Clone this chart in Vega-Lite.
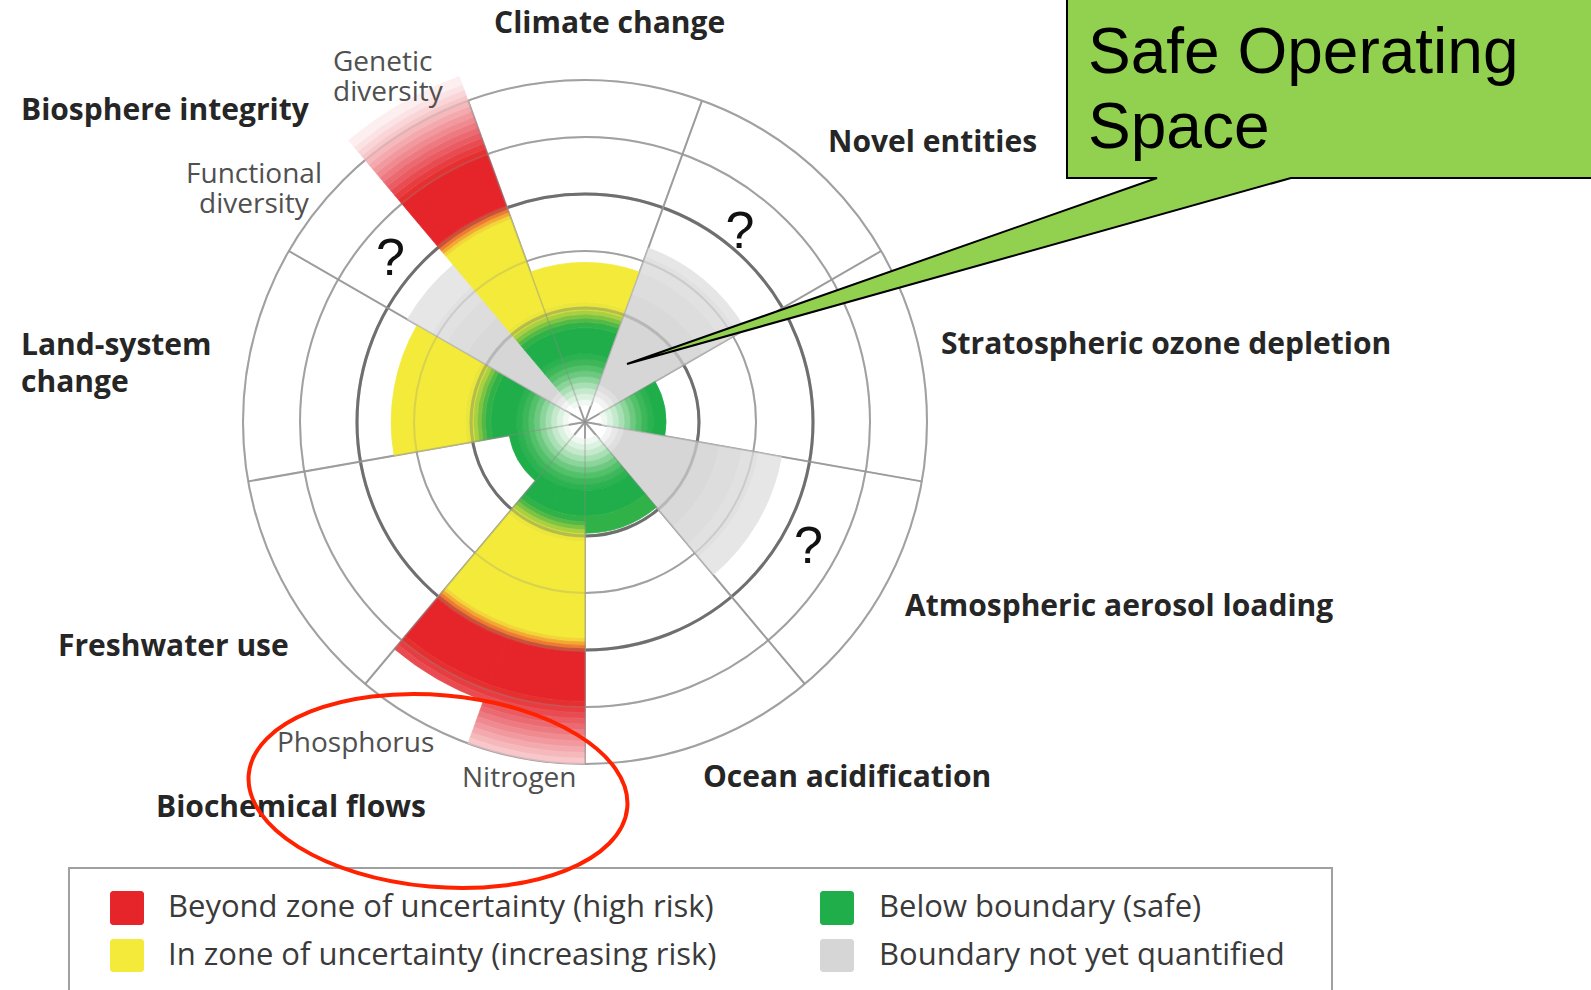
{
  "$schema": "https://vega.github.io/schema/vega-lite/v6.json",
  "width": 1591,
  "height": 990,
  "autosize": {"type": "none"},
  "padding": 0,
  "background": "white",
  "config": {"view": {"stroke": null}},
  "datasets": {
    "rings": [
      {"r": 2, "kind": "dark"}, {"r": 3, "kind": "light"}, {"r": 4, "kind": "dark"}, {"r": 5, "kind": "light"}, {"r": 6, "kind": "light"}
    ],
    "spokes": [
      {"a": 20}, {"a": 60}, {"a": 100}, {"a": 140}, {"a": 180}, {"a": 220}, {"a": 260}, {"a": 300}, {"a": 340}
    ],
    "bands": [
      {"w": "Climate change", "t0": -20, "t1": 20, "r0": 0.3, "r1": 0.4, "zone": "c1"},
      {"w": "Climate change", "t0": -20, "t1": 20, "r0": 0.4, "r1": 0.5, "zone": "c2"},
      {"w": "Climate change", "t0": -20, "t1": 20, "r0": 0.5, "r1": 0.6, "zone": "c3"},
      {"w": "Climate change", "t0": -20, "t1": 20, "r0": 0.6, "r1": 0.7, "zone": "c4"},
      {"w": "Climate change", "t0": -20, "t1": 20, "r0": 0.7, "r1": 0.8, "zone": "c5"},
      {"w": "Climate change", "t0": -20, "t1": 20, "r0": 0.8, "r1": 0.9, "zone": "c6"},
      {"w": "Climate change", "t0": -20, "t1": 20, "r0": 0.9, "r1": 1.0, "zone": "c7"},
      {"w": "Climate change", "t0": -20, "t1": 20, "r0": 1.0, "r1": 1.1, "zone": "c8"},
      {"w": "Climate change", "t0": -20, "t1": 20, "r0": 1.1, "r1": 1.2, "zone": "c9"},
      {"w": "Climate change", "t0": -20, "t1": 20, "r0": 1.2, "r1": 1.65, "zone": "g"},
      {"w": "Climate change", "t0": -20, "t1": 20, "r0": 1.65, "r1": 1.75, "zone": "g7"},
      {"w": "Climate change", "t0": -20, "t1": 20, "r0": 1.75, "r1": 1.82, "zone": "t1"},
      {"w": "Climate change", "t0": -20, "t1": 20, "r0": 1.82, "r1": 1.89, "zone": "t2"},
      {"w": "Climate change", "t0": -20, "t1": 20, "r0": 1.89, "r1": 1.96, "zone": "t3"},
      {"w": "Climate change", "t0": -20, "t1": 20, "r0": 1.96, "r1": 2.03, "zone": "t4"},
      {"w": "Climate change", "t0": -20, "t1": 20, "r0": 2.03, "r1": 2.1, "zone": "t5"},
      {"w": "Climate change", "t0": -20, "t1": 20, "r0": 2.1, "r1": 2.8, "zone": "y"},

      {"w": "Novel entities", "t0": 20, "t1": 60, "r0": 0.4, "r1": 0.5, "zone": "q0"},
      {"w": "Novel entities", "t0": 20, "t1": 60, "r0": 0.5, "r1": 0.6, "zone": "q1"},
      {"w": "Novel entities", "t0": 20, "t1": 60, "r0": 0.6, "r1": 0.7, "zone": "q2"},
      {"w": "Novel entities", "t0": 20, "t1": 60, "r0": 0.7, "r1": 2.0, "zone": "q3"},
      {"w": "Novel entities", "t0": 20, "t1": 60, "r0": 2.0, "r1": 2.4, "zone": "q4"},
      {"w": "Novel entities", "t0": 20, "t1": 60, "r0": 2.4, "r1": 2.8, "zone": "q5"},
      {"w": "Novel entities", "t0": 20, "t1": 60, "r0": 2.8, "r1": 3.1, "zone": "q6"},
      {"w": "Novel entities", "t0": 20, "t1": 60, "r0": 3.1, "r1": 3.25, "zone": "q7"},

      {"w": "Ozone", "t0": 60, "t1": 100, "r0": 0.3, "r1": 0.4, "zone": "c1"},
      {"w": "Ozone", "t0": 60, "t1": 100, "r0": 0.4, "r1": 0.5, "zone": "c2"},
      {"w": "Ozone", "t0": 60, "t1": 100, "r0": 0.5, "r1": 0.6, "zone": "c3"},
      {"w": "Ozone", "t0": 60, "t1": 100, "r0": 0.6, "r1": 0.7, "zone": "c4"},
      {"w": "Ozone", "t0": 60, "t1": 100, "r0": 0.7, "r1": 0.8, "zone": "c5"},
      {"w": "Ozone", "t0": 60, "t1": 100, "r0": 0.8, "r1": 0.9, "zone": "c6"},
      {"w": "Ozone", "t0": 60, "t1": 100, "r0": 0.9, "r1": 1.0, "zone": "c7"},
      {"w": "Ozone", "t0": 60, "t1": 100, "r0": 1.0, "r1": 1.1, "zone": "c8"},
      {"w": "Ozone", "t0": 60, "t1": 100, "r0": 1.1, "r1": 1.2, "zone": "c9"},
      {"w": "Ozone", "t0": 60, "t1": 100, "r0": 1.2, "r1": 1.42, "zone": "g"},

      {"w": "Aerosol", "t0": 100, "t1": 140, "r0": 0.4, "r1": 0.5, "zone": "q0"},
      {"w": "Aerosol", "t0": 100, "t1": 140, "r0": 0.5, "r1": 0.6, "zone": "q1"},
      {"w": "Aerosol", "t0": 100, "t1": 140, "r0": 0.6, "r1": 0.7, "zone": "q2"},
      {"w": "Aerosol", "t0": 100, "t1": 140, "r0": 0.7, "r1": 2.0, "zone": "q3"},
      {"w": "Aerosol", "t0": 100, "t1": 140, "r0": 2.0, "r1": 2.4, "zone": "q4"},
      {"w": "Aerosol", "t0": 100, "t1": 140, "r0": 2.4, "r1": 2.8, "zone": "q5"},
      {"w": "Aerosol", "t0": 100, "t1": 140, "r0": 2.8, "r1": 3.1, "zone": "q6"},
      {"w": "Aerosol", "t0": 100, "t1": 140, "r0": 3.1, "r1": 3.5, "zone": "q7"},

      {"w": "Ocean", "t0": 140, "t1": 180, "r0": 0.3, "r1": 0.4, "zone": "c1"},
      {"w": "Ocean", "t0": 140, "t1": 180, "r0": 0.4, "r1": 0.5, "zone": "c2"},
      {"w": "Ocean", "t0": 140, "t1": 180, "r0": 0.5, "r1": 0.6, "zone": "c3"},
      {"w": "Ocean", "t0": 140, "t1": 180, "r0": 0.6, "r1": 0.7, "zone": "c4"},
      {"w": "Ocean", "t0": 140, "t1": 180, "r0": 0.7, "r1": 0.8, "zone": "c5"},
      {"w": "Ocean", "t0": 140, "t1": 180, "r0": 0.8, "r1": 0.9, "zone": "c6"},
      {"w": "Ocean", "t0": 140, "t1": 180, "r0": 0.9, "r1": 1.0, "zone": "c7"},
      {"w": "Ocean", "t0": 140, "t1": 180, "r0": 1.0, "r1": 1.1, "zone": "c8"},
      {"w": "Ocean", "t0": 140, "t1": 180, "r0": 1.1, "r1": 1.2, "zone": "c9"},
      {"w": "Ocean", "t0": 140, "t1": 180, "r0": 1.2, "r1": 1.65, "zone": "g"},
      {"w": "Ocean", "t0": 140, "t1": 180, "r0": 1.65, "r1": 1.95, "zone": "g7"},

      {"w": "Nitrogen", "t0": 180, "t1": 200, "r0": 0.3, "r1": 0.4, "zone": "c1"},
      {"w": "Nitrogen", "t0": 180, "t1": 200, "r0": 0.4, "r1": 0.5, "zone": "c2"},
      {"w": "Nitrogen", "t0": 180, "t1": 200, "r0": 0.5, "r1": 0.6, "zone": "c3"},
      {"w": "Nitrogen", "t0": 180, "t1": 200, "r0": 0.6, "r1": 0.7, "zone": "c4"},
      {"w": "Nitrogen", "t0": 180, "t1": 200, "r0": 0.7, "r1": 0.8, "zone": "c5"},
      {"w": "Nitrogen", "t0": 180, "t1": 200, "r0": 0.8, "r1": 0.9, "zone": "c6"},
      {"w": "Nitrogen", "t0": 180, "t1": 200, "r0": 0.9, "r1": 1.0, "zone": "c7"},
      {"w": "Nitrogen", "t0": 180, "t1": 200, "r0": 1.0, "r1": 1.1, "zone": "c8"},
      {"w": "Nitrogen", "t0": 180, "t1": 200, "r0": 1.1, "r1": 1.2, "zone": "c9"},
      {"w": "Nitrogen", "t0": 180, "t1": 200, "r0": 1.2, "r1": 1.65, "zone": "g"},
      {"w": "Nitrogen", "t0": 180, "t1": 200, "r0": 1.65, "r1": 1.75, "zone": "g7"},
      {"w": "Nitrogen", "t0": 180, "t1": 200, "r0": 1.75, "r1": 1.82, "zone": "t1"},
      {"w": "Nitrogen", "t0": 180, "t1": 200, "r0": 1.82, "r1": 1.89, "zone": "t2"},
      {"w": "Nitrogen", "t0": 180, "t1": 200, "r0": 1.89, "r1": 1.96, "zone": "t3"},
      {"w": "Nitrogen", "t0": 180, "t1": 200, "r0": 1.96, "r1": 2.03, "zone": "t4"},
      {"w": "Nitrogen", "t0": 180, "t1": 200, "r0": 2.03, "r1": 2.1, "zone": "t5"},
      {"w": "Nitrogen", "t0": 180, "t1": 200, "r0": 2.1, "r1": 3.8, "zone": "y"},
      {"w": "Nitrogen", "t0": 180, "t1": 200, "r0": 3.8, "r1": 3.86, "zone": "u1"},
      {"w": "Nitrogen", "t0": 180, "t1": 200, "r0": 3.86, "r1": 3.92, "zone": "u2"},
      {"w": "Nitrogen", "t0": 180, "t1": 200, "r0": 3.92, "r1": 3.98, "zone": "u3"},
      {"w": "Nitrogen", "t0": 180, "t1": 200, "r0": 3.98, "r1": 4.04, "zone": "u4"},
      {"w": "Nitrogen", "t0": 180, "t1": 200, "r0": 4.04, "r1": 4.9, "zone": "r"},
      {"w": "Nitrogen", "t0": 180, "t1": 200, "r0": 4.9, "r1": 5.0, "zone": "f1"},
      {"w": "Nitrogen", "t0": 180, "t1": 200, "r0": 5.0, "r1": 5.1, "zone": "f2"},
      {"w": "Nitrogen", "t0": 180, "t1": 200, "r0": 5.1, "r1": 5.2, "zone": "f3"},
      {"w": "Nitrogen", "t0": 180, "t1": 200, "r0": 5.2, "r1": 5.3, "zone": "f4"},
      {"w": "Nitrogen", "t0": 180, "t1": 200, "r0": 5.3, "r1": 5.4, "zone": "f5"},
      {"w": "Nitrogen", "t0": 180, "t1": 200, "r0": 5.4, "r1": 5.5, "zone": "f6"},
      {"w": "Nitrogen", "t0": 180, "t1": 200, "r0": 5.5, "r1": 5.6, "zone": "f7"},
      {"w": "Nitrogen", "t0": 180, "t1": 200, "r0": 5.6, "r1": 5.7, "zone": "f8"},
      {"w": "Nitrogen", "t0": 180, "t1": 200, "r0": 5.7, "r1": 5.8, "zone": "f9"},
      {"w": "Nitrogen", "t0": 180, "t1": 200, "r0": 5.8, "r1": 5.9, "zone": "f10"},
      {"w": "Nitrogen", "t0": 180, "t1": 200, "r0": 5.9, "r1": 6.0, "zone": "f11"},

      {"w": "Phosphorus", "t0": 200, "t1": 220, "r0": 0.3, "r1": 0.4, "zone": "c1"},
      {"w": "Phosphorus", "t0": 200, "t1": 220, "r0": 0.4, "r1": 0.5, "zone": "c2"},
      {"w": "Phosphorus", "t0": 200, "t1": 220, "r0": 0.5, "r1": 0.6, "zone": "c3"},
      {"w": "Phosphorus", "t0": 200, "t1": 220, "r0": 0.6, "r1": 0.7, "zone": "c4"},
      {"w": "Phosphorus", "t0": 200, "t1": 220, "r0": 0.7, "r1": 0.8, "zone": "c5"},
      {"w": "Phosphorus", "t0": 200, "t1": 220, "r0": 0.8, "r1": 0.9, "zone": "c6"},
      {"w": "Phosphorus", "t0": 200, "t1": 220, "r0": 0.9, "r1": 1.0, "zone": "c7"},
      {"w": "Phosphorus", "t0": 200, "t1": 220, "r0": 1.0, "r1": 1.1, "zone": "c8"},
      {"w": "Phosphorus", "t0": 200, "t1": 220, "r0": 1.1, "r1": 1.2, "zone": "c9"},
      {"w": "Phosphorus", "t0": 200, "t1": 220, "r0": 1.2, "r1": 1.65, "zone": "g"},
      {"w": "Phosphorus", "t0": 200, "t1": 220, "r0": 1.65, "r1": 1.75, "zone": "g7"},
      {"w": "Phosphorus", "t0": 200, "t1": 220, "r0": 1.75, "r1": 1.82, "zone": "t1"},
      {"w": "Phosphorus", "t0": 200, "t1": 220, "r0": 1.82, "r1": 1.89, "zone": "t2"},
      {"w": "Phosphorus", "t0": 200, "t1": 220, "r0": 1.89, "r1": 1.96, "zone": "t3"},
      {"w": "Phosphorus", "t0": 200, "t1": 220, "r0": 1.96, "r1": 2.03, "zone": "t4"},
      {"w": "Phosphorus", "t0": 200, "t1": 220, "r0": 2.03, "r1": 2.1, "zone": "t5"},
      {"w": "Phosphorus", "t0": 200, "t1": 220, "r0": 2.1, "r1": 3.8, "zone": "y"},
      {"w": "Phosphorus", "t0": 200, "t1": 220, "r0": 3.8, "r1": 3.86, "zone": "u1"},
      {"w": "Phosphorus", "t0": 200, "t1": 220, "r0": 3.86, "r1": 3.92, "zone": "u2"},
      {"w": "Phosphorus", "t0": 200, "t1": 220, "r0": 3.92, "r1": 3.98, "zone": "u3"},
      {"w": "Phosphorus", "t0": 200, "t1": 220, "r0": 3.98, "r1": 4.04, "zone": "u4"},
      {"w": "Phosphorus", "t0": 200, "t1": 220, "r0": 4.04, "r1": 4.9, "zone": "r"},
      {"w": "Phosphorus", "t0": 200, "t1": 220, "r0": 4.9, "r1": 5.0, "zone": "f1"},
      {"w": "Phosphorus", "t0": 200, "t1": 220, "r0": 5.0, "r1": 5.1, "zone": "f2"},
      {"w": "Phosphorus", "t0": 200, "t1": 220, "r0": 5.1, "r1": 5.2, "zone": "f3"},

      {"w": "Freshwater", "t0": 220, "t1": 260, "r0": 0.3, "r1": 0.4, "zone": "c1"},
      {"w": "Freshwater", "t0": 220, "t1": 260, "r0": 0.4, "r1": 0.5, "zone": "c2"},
      {"w": "Freshwater", "t0": 220, "t1": 260, "r0": 0.5, "r1": 0.6, "zone": "c3"},
      {"w": "Freshwater", "t0": 220, "t1": 260, "r0": 0.6, "r1": 0.7, "zone": "c4"},
      {"w": "Freshwater", "t0": 220, "t1": 260, "r0": 0.7, "r1": 0.8, "zone": "c5"},
      {"w": "Freshwater", "t0": 220, "t1": 260, "r0": 0.8, "r1": 0.9, "zone": "c6"},
      {"w": "Freshwater", "t0": 220, "t1": 260, "r0": 0.9, "r1": 1.0, "zone": "c7"},
      {"w": "Freshwater", "t0": 220, "t1": 260, "r0": 1.0, "r1": 1.1, "zone": "c8"},
      {"w": "Freshwater", "t0": 220, "t1": 260, "r0": 1.1, "r1": 1.2, "zone": "c9"},
      {"w": "Freshwater", "t0": 220, "t1": 260, "r0": 1.2, "r1": 1.35, "zone": "g"},

      {"w": "Land", "t0": 260, "t1": 300, "r0": 0.3, "r1": 0.4, "zone": "c1"},
      {"w": "Land", "t0": 260, "t1": 300, "r0": 0.4, "r1": 0.5, "zone": "c2"},
      {"w": "Land", "t0": 260, "t1": 300, "r0": 0.5, "r1": 0.6, "zone": "c3"},
      {"w": "Land", "t0": 260, "t1": 300, "r0": 0.6, "r1": 0.7, "zone": "c4"},
      {"w": "Land", "t0": 260, "t1": 300, "r0": 0.7, "r1": 0.8, "zone": "c5"},
      {"w": "Land", "t0": 260, "t1": 300, "r0": 0.8, "r1": 0.9, "zone": "c6"},
      {"w": "Land", "t0": 260, "t1": 300, "r0": 0.9, "r1": 1.0, "zone": "c7"},
      {"w": "Land", "t0": 260, "t1": 300, "r0": 1.0, "r1": 1.1, "zone": "c8"},
      {"w": "Land", "t0": 260, "t1": 300, "r0": 1.1, "r1": 1.2, "zone": "c9"},
      {"w": "Land", "t0": 260, "t1": 300, "r0": 1.2, "r1": 1.65, "zone": "g"},
      {"w": "Land", "t0": 260, "t1": 300, "r0": 1.65, "r1": 1.75, "zone": "g7"},
      {"w": "Land", "t0": 260, "t1": 300, "r0": 1.75, "r1": 1.82, "zone": "t1"},
      {"w": "Land", "t0": 260, "t1": 300, "r0": 1.82, "r1": 1.89, "zone": "t2"},
      {"w": "Land", "t0": 260, "t1": 300, "r0": 1.89, "r1": 1.96, "zone": "t3"},
      {"w": "Land", "t0": 260, "t1": 300, "r0": 1.96, "r1": 2.03, "zone": "t4"},
      {"w": "Land", "t0": 260, "t1": 300, "r0": 2.03, "r1": 2.1, "zone": "t5"},
      {"w": "Land", "t0": 260, "t1": 300, "r0": 2.1, "r1": 3.4, "zone": "y"},

      {"w": "Functional", "t0": 300, "t1": 320, "r0": 0.4, "r1": 0.5, "zone": "q0"},
      {"w": "Functional", "t0": 300, "t1": 320, "r0": 0.5, "r1": 0.6, "zone": "q1"},
      {"w": "Functional", "t0": 300, "t1": 320, "r0": 0.6, "r1": 0.7, "zone": "q2"},
      {"w": "Functional", "t0": 300, "t1": 320, "r0": 0.7, "r1": 2.0, "zone": "q3"},
      {"w": "Functional", "t0": 300, "t1": 320, "r0": 2.0, "r1": 2.4, "zone": "q4"},
      {"w": "Functional", "t0": 300, "t1": 320, "r0": 2.4, "r1": 2.8, "zone": "q5"},
      {"w": "Functional", "t0": 300, "t1": 320, "r0": 2.8, "r1": 3.1, "zone": "q6"},
      {"w": "Functional", "t0": 300, "t1": 320, "r0": 3.1, "r1": 3.6, "zone": "q7"},

      {"w": "Genetic", "t0": 320, "t1": 340, "r0": 0.3, "r1": 0.4, "zone": "c1"},
      {"w": "Genetic", "t0": 320, "t1": 340, "r0": 0.4, "r1": 0.5, "zone": "c2"},
      {"w": "Genetic", "t0": 320, "t1": 340, "r0": 0.5, "r1": 0.6, "zone": "c3"},
      {"w": "Genetic", "t0": 320, "t1": 340, "r0": 0.6, "r1": 0.7, "zone": "c4"},
      {"w": "Genetic", "t0": 320, "t1": 340, "r0": 0.7, "r1": 0.8, "zone": "c5"},
      {"w": "Genetic", "t0": 320, "t1": 340, "r0": 0.8, "r1": 0.9, "zone": "c6"},
      {"w": "Genetic", "t0": 320, "t1": 340, "r0": 0.9, "r1": 1.0, "zone": "c7"},
      {"w": "Genetic", "t0": 320, "t1": 340, "r0": 1.0, "r1": 1.1, "zone": "c8"},
      {"w": "Genetic", "t0": 320, "t1": 340, "r0": 1.1, "r1": 1.2, "zone": "c9"},
      {"w": "Genetic", "t0": 320, "t1": 340, "r0": 1.2, "r1": 1.65, "zone": "g"},
      {"w": "Genetic", "t0": 320, "t1": 340, "r0": 1.65, "r1": 1.75, "zone": "g7"},
      {"w": "Genetic", "t0": 320, "t1": 340, "r0": 1.75, "r1": 1.82, "zone": "t1"},
      {"w": "Genetic", "t0": 320, "t1": 340, "r0": 1.82, "r1": 1.89, "zone": "t2"},
      {"w": "Genetic", "t0": 320, "t1": 340, "r0": 1.89, "r1": 1.96, "zone": "t3"},
      {"w": "Genetic", "t0": 320, "t1": 340, "r0": 1.96, "r1": 2.03, "zone": "t4"},
      {"w": "Genetic", "t0": 320, "t1": 340, "r0": 2.03, "r1": 2.1, "zone": "t5"},
      {"w": "Genetic", "t0": 320, "t1": 340, "r0": 2.1, "r1": 3.8, "zone": "y"},
      {"w": "Genetic", "t0": 320, "t1": 340, "r0": 3.8, "r1": 3.86, "zone": "u1"},
      {"w": "Genetic", "t0": 320, "t1": 340, "r0": 3.86, "r1": 3.92, "zone": "u2"},
      {"w": "Genetic", "t0": 320, "t1": 340, "r0": 3.92, "r1": 3.98, "zone": "u3"},
      {"w": "Genetic", "t0": 320, "t1": 340, "r0": 3.98, "r1": 4.04, "zone": "u4"},
      {"w": "Genetic", "t0": 320, "t1": 340, "r0": 4.04, "r1": 5.0, "zone": "r"},
      {"w": "Genetic", "t0": 320, "t1": 340, "r0": 5.0, "r1": 5.1, "zone": "f1"},
      {"w": "Genetic", "t0": 320, "t1": 340, "r0": 5.1, "r1": 5.2, "zone": "f2"},
      {"w": "Genetic", "t0": 320, "t1": 340, "r0": 5.2, "r1": 5.3, "zone": "f3"},
      {"w": "Genetic", "t0": 320, "t1": 340, "r0": 5.3, "r1": 5.4, "zone": "f4"},
      {"w": "Genetic", "t0": 320, "t1": 340, "r0": 5.4, "r1": 5.5, "zone": "f5"},
      {"w": "Genetic", "t0": 320, "t1": 340, "r0": 5.5, "r1": 5.6, "zone": "f6"},
      {"w": "Genetic", "t0": 320, "t1": 340, "r0": 5.6, "r1": 5.7, "zone": "f7"},
      {"w": "Genetic", "t0": 320, "t1": 340, "r0": 5.7, "r1": 5.8, "zone": "f8"},
      {"w": "Genetic", "t0": 320, "t1": 340, "r0": 5.8, "r1": 5.9, "zone": "f9"},
      {"w": "Genetic", "t0": 320, "t1": 340, "r0": 5.9, "r1": 6.0, "zone": "f10"},
      {"w": "Genetic", "t0": 320, "t1": 340, "r0": 6.0, "r1": 6.1, "zone": "f11"},
      {"w": "Genetic", "t0": 320, "t1": 340, "r0": 6.1, "r1": 6.2, "zone": "f12"},
      {"w": "Genetic", "t0": 320, "t1": 340, "r0": 6.2, "r1": 6.3, "zone": "f13"},
      {"w": "Genetic", "t0": 320, "t1": 340, "r0": 6.3, "r1": 6.45, "zone": "f14"}
    ],
    "labels": [
      {"px": -1.596, "py": 6.825, "label": "Climate change"},
      {"px": -9.895, "py": 5.298, "label": "Biosphere integrity"},
      {"px": 4.263, "py": 4.737, "label": "Novel entities"},
      {"px": 6.246, "py": 1.193, "label": "Stratospheric ozone depletion"},
      {"px": -9.895, "py": 1.175, "label": "Land-system\nchange"},
      {"px": 5.614, "py": -3.404, "label": "Atmospheric aerosol loading"},
      {"px": 2.07, "py": -6.395, "label": "Ocean acidification"},
      {"px": -9.246, "py": -4.105, "label": "Freshwater use"},
      {"px": -7.526, "py": -6.93, "label": "Biochemical flows"}
    ],
    "sublabels": [
      {"px": -4.421, "py": 6.158, "label": "Genetic\ndiversity"},
      {"px": -5.404, "py": -5.789, "label": "Phosphorus"},
      {"px": -2.158, "py": -6.404, "label": "Nitrogen"}
    ],
    "sublabelsCentered": [
      {"px": -5.807, "py": 4.193, "label": "Functional\ndiversity"}
    ],
    "questions": [
      {"px": 2.719, "py": 3.053, "label": "?"},
      {"px": 3.921, "py": -2.474, "label": "?"},
      {"px": -3.412, "py": 2.579, "label": "?"}
    ],
    "callout": [
      {"i": 1, "px": 8.456, "py": 7.491},
      {"i": 2, "px": 17.807, "py": 7.491},
      {"i": 3, "px": 17.807, "py": 4.281},
      {"i": 4, "px": 12.386, "py": 4.281},
      {"i": 5, "px": 0.737, "py": 1.018},
      {"i": 6, "px": 10.035, "py": 4.281},
      {"i": 7, "px": 8.456, "py": 4.281}
    ],
    "calloutText": [
      {"px": 8.825, "py": 6.123, "label": "Safe Operating\nSpace"}
    ],
    "legendBox": [
      {"px": -9.053, "px2": 13.105, "py": -7.825, "py2": -10.14}
    ],
    "legendSwatches": [
      {"zone": "r", "px": -8.333, "px2": -7.737, "py": -8.228, "py2": -8.825},
      {"zone": "y", "px": -8.333, "px2": -7.737, "py": -9.07, "py2": -9.649},
      {"zone": "g", "px": 4.123, "px2": 4.719, "py": -8.228, "py2": -8.825},
      {"zone": "q3", "px": 4.123, "px2": 4.719, "py": -9.07, "py2": -9.649}
    ],
    "legendText": [
      {"px": -7.316, "py": -8.526, "label": "Beyond zone of uncertainty (high risk)"},
      {"px": -7.316, "py": -9.36, "label": "In zone of uncertainty (increasing risk)"},
      {"px": 5.158, "py": -8.526, "label": "Below boundary (safe)"},
      {"px": 5.158, "py": -9.36, "label": "Boundary not yet quantified"}
    ],
    "ellipse": [
      {"px": -2.579, "py": -6.474}
    ]
  },
  "layer": [
    {
      "data": {"name": "rings"},
      "transform": [{"filter": "datum.kind === 'light'"}],
      "mark": {"type": "arc", "filled": false, "stroke": "#a8a8a8", "strokeWidth": 2},
      "encoding": {
        "x": {"datum": 0, "type": "quantitative", "axis": null, "scale": {"domain": [-10.26316, 17.64912], "range": [0, 1591], "nice": false, "zero": false}},
        "y": {"datum": 0, "type": "quantitative", "axis": null, "scale": {"domain": [-9.96491, 7.40351], "range": [990, 0], "nice": false, "zero": false}},
        "theta": {"datum": 0, "type": "quantitative", "scale": {"domain": [0, 360], "range": [0, 6.283185307179586], "nice": false, "zero": false}},
        "theta2": {"datum": 360},
        "radius": {"field": "r", "type": "quantitative", "scale": {"type": "linear", "domain": [0, 6], "range": [0, 342], "nice": false, "zero": true}},
        "radius2": {"datum": 0}
      }
    },
    {
      "data": {"name": "rings"},
      "transform": [{"filter": "datum.kind === 'dark'"}],
      "mark": {"type": "arc", "filled": false, "stroke": "#6f6f6f", "strokeWidth": 3},
      "encoding": {
        "x": {"datum": 0, "type": "quantitative", "axis": null},
        "y": {"datum": 0, "type": "quantitative", "axis": null},
        "theta": {"datum": 0, "type": "quantitative"},
        "theta2": {"datum": 360},
        "radius": {"field": "r", "type": "quantitative"},
        "radius2": {"datum": 0}
      }
    },
    {
      "data": {"name": "spokes"},
      "mark": {"type": "arc", "filled": false, "stroke": "#a8a8a8", "strokeWidth": 2},
      "encoding": {
        "x": {"datum": 0, "type": "quantitative", "axis": null},
        "y": {"datum": 0, "type": "quantitative", "axis": null},
        "theta": {"field": "a", "type": "quantitative", "stack": null},
        "theta2": {"field": "a"},
        "radius": {"datum": 6, "type": "quantitative"},
        "radius2": {"datum": 0}
      }
    },
    {
      "data": {"name": "bands"},
      "mark": {"type": "arc", "strokeWidth": 0.8},
      "encoding": {
        "x": {"datum": 0, "type": "quantitative", "axis": null},
        "y": {"datum": 0, "type": "quantitative", "axis": null},
        "theta": {"field": "t0", "type": "quantitative", "stack": null},
        "theta2": {"field": "t1"},
        "radius": {"field": "r1", "type": "quantitative"},
        "radius2": {"field": "r0"},
        "color": {"field": "zone", "type": "nominal", "legend": null,
          "scale": {
            "domain": ["c1", "c2", "c3", "c4", "c5", "c6", "c7", "c8", "c9", "g", "g7", "t1", "t2", "t3", "t4", "t5", "y", "u1", "u2", "u3", "u4", "r", "f1", "f2", "f3", "f4", "f5", "f6", "f7", "f8", "f9", "f10", "f11", "f12", "f13", "f14", "q0", "q1", "q2", "q3", "q4", "q5", "q6", "q7"],
            "range": ["#eff9f1", "#dcf2e0", "#c5e9cc", "#a9dfb4", "#8bd49a", "#6dc980", "#53c06a", "#3db75a", "#2cb250", "#20ae4a", "#30b249", "#52b946", "#7dc443", "#a8d040", "#d2dd3c", "#ebe63a", "#f3ea3a", "#f3d538", "#f1a934", "#ee7a2f", "#e9472b", "#e5252a", "#e6302f", "#e73d40", "#e84c52", "#ea5b62", "#eb6a71", "#ed7a80", "#ef8a90", "#f1999e", "#f3a9ad", "#f5b8bb", "#f7c7ca", "#f9d5d7", "#fbe2e4", "#fdeff0", "#f3f3f3", "#e8e8e8", "#dfdfdf", "#d6d6d6", "#d9d9d9", "#dddddd", "#e1e1e1", "#e6e6e6"]
          }},
        "stroke": {"field": "zone", "type": "nominal", "legend": null,
          "scale": {
            "domain": ["c1", "c2", "c3", "c4", "c5", "c6", "c7", "c8", "c9", "g", "g7", "t1", "t2", "t3", "t4", "t5", "y", "u1", "u2", "u3", "u4", "r", "f1", "f2", "f3", "f4", "f5", "f6", "f7", "f8", "f9", "f10", "f11", "f12", "f13", "f14", "q0", "q1", "q2", "q3", "q4", "q5", "q6", "q7"],
            "range": ["#eff9f1", "#dcf2e0", "#c5e9cc", "#a9dfb4", "#8bd49a", "#6dc980", "#53c06a", "#3db75a", "#2cb250", "#20ae4a", "#30b249", "#52b946", "#7dc443", "#a8d040", "#d2dd3c", "#ebe63a", "#f3ea3a", "#f3d538", "#f1a934", "#ee7a2f", "#e9472b", "#e5252a", "#e6302f", "#e73d40", "#e84c52", "#ea5b62", "#eb6a71", "#ed7a80", "#ef8a90", "#f1999e", "#f3a9ad", "#f5b8bb", "#f7c7ca", "#f9d5d7", "#fbe2e4", "#fdeff0", "#f3f3f3", "#e8e8e8", "#dfdfdf", "#d6d6d6", "#d9d9d9", "#dddddd", "#e1e1e1", "#e6e6e6"]
          }}
      }
    },
    {
      "data": {"name": "rings"},
      "transform": [{"filter": "datum.kind === 'light'"}],
      "mark": {"type": "arc", "filled": false, "stroke": "#8a8a8a", "strokeWidth": 2, "strokeOpacity": 0.25},
      "encoding": {
        "x": {"datum": 0, "type": "quantitative", "axis": null},
        "y": {"datum": 0, "type": "quantitative", "axis": null},
        "theta": {"datum": 0, "type": "quantitative"},
        "theta2": {"datum": 360},
        "radius": {"field": "r", "type": "quantitative"},
        "radius2": {"datum": 0}
      }
    },
    {
      "data": {"name": "rings"},
      "transform": [{"filter": "datum.kind === 'dark'"}],
      "mark": {"type": "arc", "filled": false, "stroke": "#6f6f6f", "strokeWidth": 3, "strokeOpacity": 0.3},
      "encoding": {
        "x": {"datum": 0, "type": "quantitative", "axis": null},
        "y": {"datum": 0, "type": "quantitative", "axis": null},
        "theta": {"datum": 0, "type": "quantitative"},
        "theta2": {"datum": 360},
        "radius": {"field": "r", "type": "quantitative"},
        "radius2": {"datum": 0}
      }
    },
    {
      "data": {"name": "spokes"},
      "mark": {"type": "arc", "filled": false, "stroke": "#8a8a8a", "strokeWidth": 1.5, "strokeOpacity": 0.4},
      "encoding": {
        "x": {"datum": 0, "type": "quantitative", "axis": null},
        "y": {"datum": 0, "type": "quantitative", "axis": null},
        "theta": {"field": "a", "type": "quantitative", "stack": null},
        "theta2": {"field": "a"},
        "radius": {"datum": 6, "type": "quantitative"},
        "radius2": {"datum": 0}
      }
    },
    {
      "data": {"name": "labels"},
      "mark": {"type": "text", "font": "Open Sans", "fontWeight": "bold", "fontSize": 30, "color": "#262626", "align": "left", "baseline": "alphabetic", "lineBreak": "\n", "lineHeight": 37},
      "encoding": {
        "x": {"field": "px", "type": "quantitative", "axis": null},
        "y": {"field": "py", "type": "quantitative", "axis": null},
        "text": {"field": "label", "type": "nominal"}
      }
    },
    {
      "data": {"name": "sublabels"},
      "mark": {"type": "text", "font": "Open Sans", "fontSize": 28, "color": "#505050", "align": "left", "baseline": "alphabetic", "lineBreak": "\n", "lineHeight": 30},
      "encoding": {
        "x": {"field": "px", "type": "quantitative", "axis": null},
        "y": {"field": "py", "type": "quantitative", "axis": null},
        "text": {"field": "label", "type": "nominal"}
      }
    },
    {
      "data": {"name": "sublabelsCentered"},
      "mark": {"type": "text", "font": "Open Sans", "fontSize": 28, "color": "#505050", "align": "center", "baseline": "alphabetic", "lineBreak": "\n", "lineHeight": 30},
      "encoding": {
        "x": {"field": "px", "type": "quantitative", "axis": null},
        "y": {"field": "py", "type": "quantitative", "axis": null},
        "text": {"field": "label", "type": "nominal"}
      }
    },
    {
      "data": {"name": "questions"},
      "mark": {"type": "text", "font": "Liberation Sans", "fontSize": 52, "color": "#111111", "align": "center", "baseline": "alphabetic"},
      "encoding": {
        "x": {"field": "px", "type": "quantitative", "axis": null},
        "y": {"field": "py", "type": "quantitative", "axis": null},
        "text": {"field": "label", "type": "nominal"}
      }
    },
    {
      "data": {"name": "callout"},
      "mark": {"type": "line", "interpolate": "linear-closed", "fill": "#92d050", "stroke": "#000000", "strokeWidth": 2, "strokeJoin": "miter"},
      "encoding": {
        "x": {"field": "px", "type": "quantitative", "axis": null},
        "y": {"field": "py", "type": "quantitative", "axis": null},
        "order": {"field": "i", "type": "quantitative"}
      }
    },
    {
      "data": {"name": "calloutText"},
      "mark": {"type": "text", "font": "Liberation Sans", "fontSize": 64, "color": "#000000", "align": "left", "baseline": "alphabetic", "lineBreak": "\n", "lineHeight": 75},
      "encoding": {
        "x": {"field": "px", "type": "quantitative", "axis": null},
        "y": {"field": "py", "type": "quantitative", "axis": null},
        "text": {"field": "label", "type": "nominal"}
      }
    },
    {
      "data": {"name": "legendBox"},
      "mark": {"type": "rect", "filled": false, "stroke": "#a0a0a0", "strokeWidth": 2},
      "encoding": {
        "x": {"field": "px", "type": "quantitative", "axis": null},
        "x2": {"field": "px2"},
        "y": {"field": "py", "type": "quantitative", "axis": null},
        "y2": {"field": "py2"}
      }
    },
    {
      "data": {"name": "legendSwatches"},
      "mark": {"type": "rect", "cornerRadius": 3},
      "encoding": {
        "x": {"field": "px", "type": "quantitative", "axis": null},
        "x2": {"field": "px2"},
        "y": {"field": "py", "type": "quantitative", "axis": null},
        "y2": {"field": "py2"},
        "color": {"field": "zone", "type": "nominal", "legend": null}
      }
    },
    {
      "data": {"name": "legendText"},
      "mark": {"type": "text", "font": "Open Sans", "fontSize": 31, "color": "#3a3a3a", "align": "left", "baseline": "middle"},
      "encoding": {
        "x": {"field": "px", "type": "quantitative", "axis": null},
        "y": {"field": "py", "type": "quantitative", "axis": null},
        "text": {"field": "label", "type": "nominal"}
      }
    },
    {
      "data": {"name": "ellipse"},
      "mark": {"type": "point", "shape": "M -1 0 C -1 -0.2789 -0.5523 -0.505 0 -0.505 C 0.5523 -0.505 1 -0.2789 1 0 C 1 0.2789 0.5523 0.505 0 0.505 C -0.5523 0.505 -1 0.2789 -1 0 Z", "size": 144400, "angle": 5, "filled": false, "stroke": "#ff2200", "strokeWidth": 4, "opacity": 1},
      "encoding": {
        "x": {"field": "px", "type": "quantitative", "axis": null},
        "y": {"field": "py", "type": "quantitative", "axis": null}
      }
    }
  ]
}
